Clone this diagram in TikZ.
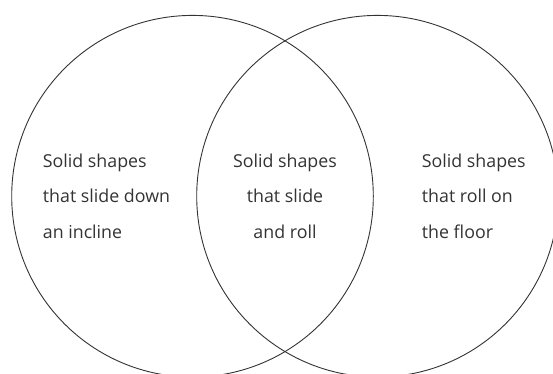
\documentclass[tikz,border=0pt]{standalone}
\usepackage{fontspec}
\setmainfont{Open Sans}
\usepackage{tikz}
\definecolor{ink}{HTML}{333333}

\begin{document}
\begin{tikzpicture}[
  x=1pt,y=-1pt,
  setcircle/.style={draw=ink,line width=0.9pt,circle,minimum size=361.6pt,inner sep=0pt},
  label/.style={inner sep=0pt,font=\fontsize{17.8}{35.5}\selectfont,text=ink}
]
\useasboundingbox (0,0) rectangle (553,373);
\node[setcircle] (slide) at (192.5,196.2) {};
\node[setcircle] (roll) at (377.5,196.2) {};
% base anchor sits on the last line
\node[label,align=left,anchor=base west] (slidetxt) at (42.7,238) {Solid shapes\\that slide down\\an incline};
\node[label,align=center,anchor=base] (bothtxt) at (285,238) {Solid shapes\\that slide\\and roll};
\node[label,align=left,anchor=base west] (rolltxt) at (421.7,238) {Solid shapes\\that roll on\\the floor};
\end{tikzpicture}
\end{document}
